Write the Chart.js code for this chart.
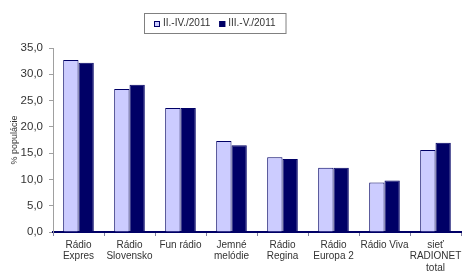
<!DOCTYPE html>
<html><head><meta charset="utf-8">
<script src="https://cdn.jsdelivr.net/npm/chart.js@4"></script>
<style>html,body{margin:0;padding:0;background:#fff}#w{width:470px;height:280px;position:relative}</style>
</head><body><div id="w"><canvas id="c" width="470" height="280"></canvas></div>
<script>
const categories = [["Rádio","Expres"],["Rádio","Slovensko"],["Fun rádio"],["Jemné","melódie"],["Rádio","Regina"],["Rádio","Europa 2"],["Rádio Viva"],["sieť","RADIONET","total"]];
const seriesNames = ["II.-IV./2011","III.-V./2011"];
const period1 = [32.7, 27.2, 23.6, 17.3, 14.2, 12.2, 9.4, 15.6];
const period2 = [32.2, 28.0, 23.6, 16.5, 13.9, 12.2, 9.8, 17.0];
const yTicks = [0,5,10,15,20,25,30,35];
const yTitle = "% populácie";

const NAVY = '#000066', LIGHT = '#ccccff', TXT = '#333333';
const FONT = '"Liberation Sans", Arial, sans-serif';

const legendPlugin = {
  id: 'boxLegend',
  afterDraw(chart) {
    const ctx = chart.ctx;
    ctx.save();
    ctx.font = '10px ' + FONT;
    const box = 6, gap = 3, itemGap = 9, padX = 10;
    const widths = chart.data.datasets.map(d => box + gap + ctx.measureText(d.label).width);
    const total = widths.reduce((a,b)=>a+b,0) + itemGap*(widths.length-1) + padX*2;
    const left = 144, top = 13, h = 20;
    ctx.strokeStyle = '#808080'; ctx.lineWidth = 1;
    ctx.strokeRect(left+0.5, top+0.5, total, h);
    let x = left + padX;
    const cy = top + h/2 + 0.5;
    chart.data.datasets.forEach((d,i) => {
      ctx.fillStyle = d.backgroundColor;
      ctx.fillRect(x, Math.round(cy - box/2), box, box);
      ctx.strokeStyle = NAVY; ctx.strokeRect(x+0.5, Math.round(cy - box/2) + 0.5, box-1, box-1);
      ctx.fillStyle = TXT; ctx.textBaseline = 'middle';
      ctx.fillText(d.label, x + box + gap, cy);
      x += widths[i] + itemGap;
    });
    ctx.restore();
  }
};

new Chart(document.getElementById('c'), {
  type: 'bar',
  data: {
    labels: categories,
    datasets: [
      { label: seriesNames[0], data: period1, backgroundColor: LIGHT, borderColor: NAVY, borderWidth: 1 },
      { label: seriesNames[1], data: period2, backgroundColor: NAVY, borderColor: NAVY, borderWidth: 1 }
    ]
  },
  options: {
    responsive: false,
    animation: false,
    devicePixelRatio: 1,
    layout: { padding: { left: 0, right: 9, top: 48, bottom: 0 } },
    plugins: { legend: { display: false }, tooltip: { enabled: false } },
    datasets: { bar: { categoryPercentage: 0.6, barPercentage: 1.0, borderSkipped: 'bottom' } },
    scales: {
      x: {
        grid: { display: true, drawOnChartArea: false, offset: true, tickLength: 4, color: '#8080a0' },
        border: { color: NAVY, width: 2 },
        ticks: { color: TXT, font: { family: FONT, size: 10, lineHeight: 1.15 }, maxRotation: 0, autoSkip: false, padding: 3 },
        afterFit(s) { s.height = 48; }
      },
      y: {
        min: 0, max: 35,
        afterBuildTicks(s) { s.ticks = yTicks.map(v => ({ value: v })); },
        grid: { display: true, drawOnChartArea: false, tickLength: 4, color: '#a0a0a0' },
        border: { color: '#a0a0a0', width: 1 },
        ticks: { color: TXT, font: { family: FONT, size: 11.5 }, padding: 6,
          callback: v => v.toFixed(1).replace('.', ',') },
        title: { display: true, text: yTitle, color: TXT, font: { family: FONT, size: 9 }, padding: { top: 9, bottom: 0 } },
        afterFit(s) { s.width = 53; }
      }
    }
  },
  plugins: [legendPlugin]
});
</script></body></html>
